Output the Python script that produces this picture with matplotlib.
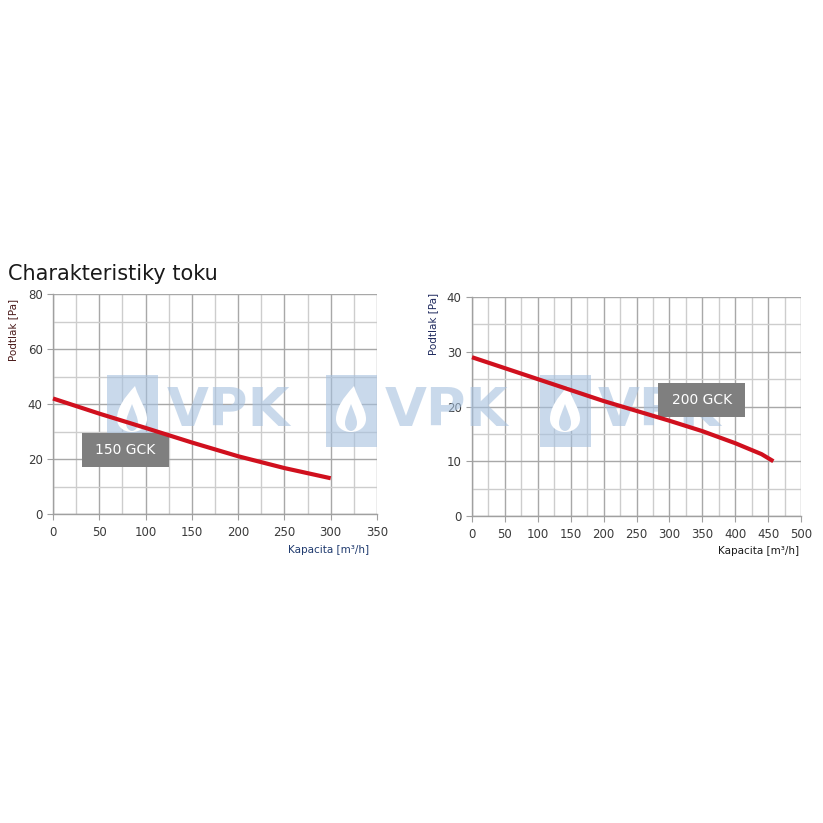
import matplotlib
matplotlib.use("Agg")
import matplotlib.pyplot as plt
from matplotlib.patches import Rectangle, PathPatch
from matplotlib.path import Path
import numpy as np

# Data
x150 = [0, 50, 100, 150, 200, 250, 300]
y150 = [42, 36.5, 31.3, 26.0, 21.0, 16.7, 13.0]
x200 = [0, 50, 100, 150, 200, 250, 300, 350, 400, 440, 458]
y200 = [29, 27, 25, 23, 21, 19.2, 17.4, 15.5, 13.3, 11.3, 10]
label150 = "150 GCK"
label200 = "200 GCK"
title = "Charakteristiky toku"
xlabel = "Kapacita [m³/h]"
ylabel = "Podtlak [Pa]"
watermark = "VPK"

W = H = 823
fig = plt.figure(figsize=(8.23, 8.23), dpi=100)
fig.patch.set_facecolor("white")

def fx(px):
    return px / W
def fy(py):
    return 1 - py / H

def setup(ax, xmax, xstep, ymax, ystep, xminor, yminor):
    ax.set_facecolor("none")
    ax.set_xlim(0, xmax)
    ax.set_ylim(0, ymax)
    ax.set_xticks(np.arange(0, xmax + 1, xstep))
    ax.set_yticks(np.arange(0, ymax + 1, ystep))
    ax.set_xticks(np.arange(0, xmax + 1, xminor), minor=True)
    ax.set_yticks(np.arange(0, ymax + 1, yminor), minor=True)
    ax.grid(which="major", color="#a8a8a8", linewidth=1.0)
    ax.grid(which="minor", color="#cdcdcd", linewidth=1.0)
    ax.set_axisbelow(True)
    for s in ["top", "right"]:
        ax.spines[s].set_visible(False)
    for s in ["left", "bottom"]:
        ax.spines[s].set_color("#a0a0a0")
        ax.spines[s].set_linewidth(1.0)
    ax.tick_params(which="major", length=4, color="#a0a0a0", labelsize=8.5, labelcolor="#3a3a3a")
    ax.tick_params(which="minor", length=0)
    ax.tick_params(axis="x", pad=5)

def overlay(rect, xmax, ymax):
    o = fig.add_axes(rect, zorder=2)
    o.set_facecolor("none")
    o.set_xlim(0, xmax)
    o.set_ylim(0, ymax)
    o.axis("off")
    return o

# Left chart
r1 = [fx(53), fy(514), fx(377 - 53), (514 - 294) / H]
ax1 = fig.add_axes(r1, zorder=0)
setup(ax1, 350, 50, 80, 20, 25, 10)
o1 = overlay(r1, 350, 80)
o1.plot(x150, y150, color="#d0101e", linewidth=3, solid_capstyle="butt", zorder=3, clip_on=False)
o1.add_patch(Rectangle((31, 17.2), 94, 12.3, facecolor="#7f7f7f", edgecolor="none", zorder=2))
o1.text(78, 23.3, label150, color="white", fontsize=10, ha="center", va="center", zorder=4)
fig.text(fx(8), fy(274), title, fontsize=15, color="#1a1a1a", ha="left", va="center")
fig.text(fx(13), fy(330), ylabel, rotation=90, fontsize=7.5, color="#4a1a1a", ha="center", va="center")
fig.text(fx(369), fy(550), xlabel, fontsize=7.5, color="#1f3a6e", ha="right", va="center")

# Right chart
r2 = [fx(472), fy(516), fx(801 - 472), (516 - 297) / H]
ax2 = fig.add_axes(r2, zorder=0)
setup(ax2, 500, 50, 40, 10, 25, 5)
o2 = overlay(r2, 500, 40)
o2.plot(x200, y200, color="#d0101e", linewidth=3, solid_capstyle="butt", zorder=3, clip_on=False)
o2.add_patch(Rectangle((283, 18.1), 132, 6.2, facecolor="#7f7f7f", edgecolor="none", zorder=2))
o2.text(349, 21.2, label200, color="white", fontsize=10, ha="center", va="center", zorder=4)
fig.text(fx(433), fy(324), ylabel, rotation=90, fontsize=7.5, color="#1f2a5e", ha="center", va="center")
fig.text(fx(799), fy(551), xlabel, fontsize=7.5, color="#1a1a1a", ha="right", va="center")

# Watermark (above grid, below curves)
wm_color = "#a6c1df"
wm_alpha = 0.6
def ppath(pts, codes):
    return Path([(fx(a), fy(b)) for a, b in pts], codes)

M, C, L, Z = Path.MOVETO, Path.CURVE4, Path.LINETO, Path.CLOSEPOLY
for sx, tx in [(107, 167), (326, 385), (540, 598)]:
    fig.add_artist(Rectangle((fx(sx), fy(447)), fx(51), 72 / H, transform=fig.transFigure,
                             facecolor=wm_color, alpha=wm_alpha, edgecolor="none", zorder=1))
    cx = sx + 25
    # outer white flame
    pts = [(cx + 3, 386),
           (cx - 8, 398), (cx - 15, 408), (cx - 15, 419),
           (cx - 15, 427), (cx - 8, 432), (cx, 432),
           (cx + 8, 432), (cx + 15, 427), (cx + 15, 419),
           (cx + 15, 409), (cx + 8, 402), (cx + 3, 386),
           (cx + 3, 386)]
    codes = [M, C, C, C, C, C, C, C, C, C, C, C, C, Z]
    fig.add_artist(PathPatch(ppath(pts, codes), transform=fig.transFigure,
                             facecolor="white", edgecolor="none", zorder=1.1))
    # inner drop
    pts2 = [(cx, 404),
            (cx - 3, 412), (cx - 6, 418), (cx - 6, 423),
            (cx - 6, 428), (cx - 3, 431), (cx, 431),
            (cx + 3, 431), (cx + 6, 428), (cx + 6, 423),
            (cx + 6, 418), (cx + 3, 412), (cx, 404),
            (cx, 404)]
    fig.add_artist(PathPatch(ppath(pts2, codes), transform=fig.transFigure,
                             facecolor=wm_color, alpha=wm_alpha, edgecolor="none", zorder=1.2))
    fig.text(fx(tx), fy(411), watermark, fontsize=39, fontweight="bold", color=wm_color,
             alpha=wm_alpha, ha="left", va="center", zorder=1)

fig.savefig("out.png", dpi=100)
